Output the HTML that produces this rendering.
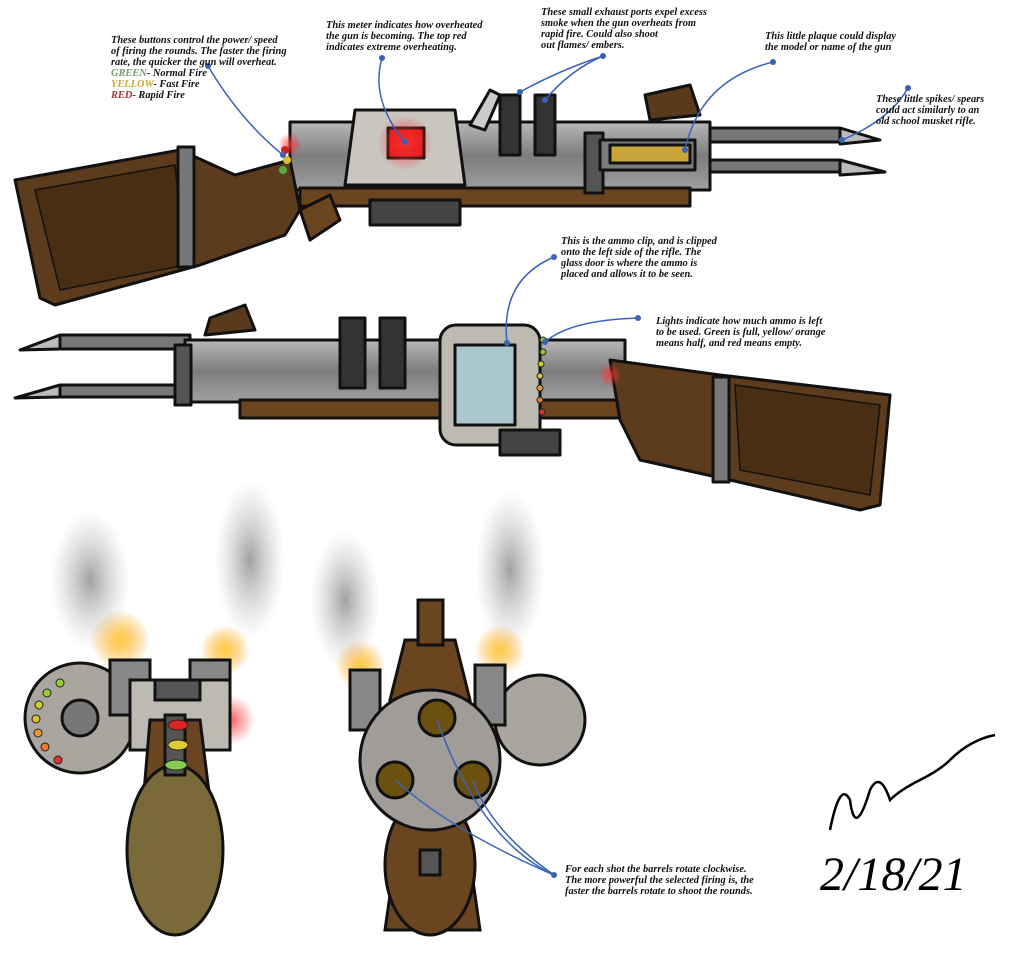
<!DOCTYPE html>
<html><head><style>
body{margin:0;background:#fff;width:1024px;height:964px;overflow:hidden}
svg{display:block}
text{font-family:"Liberation Serif",serif;font-style:italic;font-weight:bold;font-size:10.4px;fill:#111}
</style></head><body>
<svg width="1024" height="964" viewBox="0 0 1024 964" xmlns="http://www.w3.org/2000/svg">
<defs>
<radialGradient id="glow"><stop offset="0" stop-color="#f33" stop-opacity=".8"/><stop offset="1" stop-color="#f33" stop-opacity="0"/></radialGradient>
<radialGradient id="fire"><stop offset="0" stop-color="#fc4"/><stop offset="1" stop-color="#f90" stop-opacity="0"/></radialGradient>
<radialGradient id="smoke"><stop offset="0" stop-color="#888" stop-opacity=".8"/><stop offset="1" stop-color="#bbb" stop-opacity="0"/></radialGradient>
<linearGradient id="metal" x1="0" y1="0" x2="0" y2="1"><stop offset="0" stop-color="#b8b8b8"/><stop offset=".5" stop-color="#7d7d80"/><stop offset="1" stop-color="#a0a0a0"/></linearGradient>
</defs>

<!-- TOP GUN -->
<g stroke="#111" stroke-width="3" stroke-linejoin="round">
<rect x="690" y="128" width="150" height="14" fill="#777"/>
<rect x="690" y="160" width="150" height="12" fill="#777"/>
<polygon points="840,128 880,140 840,144" fill="#bbb"/>
<polygon points="840,160 885,172 840,175" fill="#bbb"/>
<path d="M645,95 L690,85 L700,115 L650,120 Z" fill="#5a3a1c"/>
<rect x="290" y="122" width="420" height="68" fill="url(#metal)"/>
<rect x="300" y="188" width="390" height="18" fill="#6b4520"/>
<path d="M15,180 L180,150 L235,175 L290,160 L300,210 L285,235 L200,265 L55,305 L40,298 Z" fill="#5d3b1d"/>
<path d="M35,190 L175,165 L185,265 L60,290 Z" fill="#4a2e14" stroke-width="1.5"/>
<rect x="178" y="147" width="16" height="120" fill="#777"/>
<path d="M355,110 L455,110 L465,185 L345,185 Z" fill="#c9c6c0"/>
<rect x="388" y="128" width="36" height="30" fill="#e01818"/>
<rect x="500" y="95" width="20" height="60" fill="#333"/>
<rect x="535" y="95" width="20" height="60" fill="#333"/>
<path d="M470,125 L490,90 L500,95 L485,130 Z" fill="#ccc"/>
<rect x="585" y="133" width="18" height="60" fill="#555"/>
<rect x="600" y="140" width="95" height="30" fill="#7a7a7a"/>
<rect x="610" y="145" width="80" height="18" fill="#c9a53b"/>
<rect x="370" y="200" width="90" height="25" fill="#444"/>
<path d="M300,210 L330,195 L340,220 L310,240 Z" fill="#6b4520"/>
</g>
<circle cx="405" cy="143" r="28" fill="url(#glow)"/>
<circle cx="290" cy="145" r="12" fill="url(#glow)"/>
<circle cx="285" cy="150" r="4" fill="#c22"/><circle cx="287" cy="160" r="4" fill="#db3"/><circle cx="283" cy="170" r="4" fill="#5a4"/>

<!-- SECOND GUN -->
<g stroke="#111" stroke-width="3" stroke-linejoin="round">
<rect x="60" y="335" width="130" height="14" fill="#777"/>
<rect x="60" y="385" width="130" height="12" fill="#777"/>
<polygon points="60,335 20,350 60,349" fill="#bbb"/>
<polygon points="60,385 15,398 60,397" fill="#bbb"/>
<path d="M210,318 L245,305 L255,330 L205,335 Z" fill="#5a3a1c"/>
<rect x="185" y="340" width="440" height="62" fill="url(#metal)"/>
<rect x="240" y="400" width="380" height="18" fill="#6b4520"/>
<path d="M610,360 L720,375 L890,395 L880,505 L860,510 L730,480 L640,460 L620,420 Z" fill="#5d3b1d"/>
<path d="M735,385 L880,405 L870,495 L740,470 Z" fill="#4a2e14" stroke-width="1.5"/>
<rect x="713" y="377" width="16" height="105" fill="#777"/>
<rect x="340" y="318" width="25" height="70" fill="#333"/>
<rect x="380" y="318" width="25" height="70" fill="#333"/>
<rect x="175" y="345" width="16" height="60" fill="#555"/>
<rect x="440" y="325" width="100" height="120" rx="16" fill="#bdbab2"/>
<rect x="455" y="345" width="60" height="80" fill="#a9c7cc"/>
<rect x="500" y="430" width="60" height="25" fill="#444"/>
</g>
<circle cx="610" cy="375" r="12" fill="url(#glow)"/>
<g stroke="#222" stroke-width="1">
<circle cx="543" cy="340" r="3" fill="#8c3"/><circle cx="543" cy="352" r="3" fill="#8c3"/><circle cx="541" cy="364" r="3" fill="#cc3"/><circle cx="540" cy="376" r="3" fill="#db3"/><circle cx="540" cy="388" r="3" fill="#e93"/><circle cx="540" cy="400" r="3" fill="#e73"/><circle cx="542" cy="412" r="3" fill="#d33"/>
</g>

<!-- BOTTOM LEFT VIEW -->
<circle cx="120" cy="640" r="30" fill="url(#fire)"/>
<circle cx="225" cy="650" r="25" fill="url(#fire)"/>
<ellipse cx="90" cy="580" rx="40" ry="70" fill="url(#smoke)"/>
<ellipse cx="250" cy="560" rx="35" ry="80" fill="url(#smoke)"/>
<circle cx="230" cy="720" r="25" fill="url(#glow)"/>
<g stroke="#111" stroke-width="3">
<circle cx="80" cy="718" r="55" fill="#aaa69f"/>
<circle cx="80" cy="718" r="18" fill="#777"/>
<rect x="110" y="660" width="40" height="55" fill="#888"/>
<rect x="190" y="660" width="40" height="55" fill="#888"/>
<rect x="130" y="680" width="100" height="70" fill="#bdbab2"/>
<rect x="155" y="680" width="45" height="20" fill="#555"/>
<path d="M150,720 L200,720 L215,840 L140,840 Z" fill="#6b4520"/>
<ellipse cx="175" cy="850" rx="48" ry="85" fill="#7a6a3a"/>
<rect x="165" y="715" width="20" height="60" fill="#555"/>
</g>
<g stroke="#222" stroke-width="1">
<ellipse cx="178" cy="725" rx="10" ry="5" fill="#d22"/><ellipse cx="178" cy="745" rx="10" ry="5" fill="#dc3"/><ellipse cx="176" cy="765" rx="11" ry="5" fill="#8c5"/>
<circle cx="60" cy="683" r="4" fill="#9c3"/><circle cx="47" cy="693" r="4" fill="#9c3"/><circle cx="39" cy="705" r="4" fill="#cc3"/><circle cx="36" cy="719" r="4" fill="#db3"/><circle cx="38" cy="733" r="4" fill="#e93"/><circle cx="45" cy="747" r="4" fill="#e73"/><circle cx="58" cy="760" r="4" fill="#d33"/>
</g>

<!-- BOTTOM RIGHT VIEW -->
<circle cx="360" cy="665" r="25" fill="url(#fire)"/>
<circle cx="500" cy="650" r="25" fill="url(#fire)"/>
<ellipse cx="345" cy="600" rx="35" ry="70" fill="url(#smoke)"/>
<ellipse cx="510" cy="570" rx="35" ry="80" fill="url(#smoke)"/>
<g stroke="#111" stroke-width="3">
<circle cx="540" cy="720" r="45" fill="#aaa69f"/>
<path d="M405,640 L455,640 L470,700 L390,700 Z" fill="#6b4520"/>
<rect x="418" y="600" width="25" height="45" fill="#6b4520"/>
<rect x="350" y="670" width="30" height="60" fill="#888"/>
<rect x="475" y="665" width="30" height="60" fill="#888"/>
<path d="M395,860 L470,860 L480,930 L385,930 Z" fill="#6b4520"/>
<ellipse cx="430" cy="865" rx="45" ry="70" fill="#6b4520"/>
<circle cx="430" cy="760" r="70" fill="#a09d98"/>
<circle cx="437" cy="718" r="18" fill="#6b5010"/>
<circle cx="395" cy="780" r="18" fill="#6b5010"/>
<circle cx="473" cy="780" r="18" fill="#6b5010"/>
<rect x="420" y="850" width="20" height="25" fill="#555"/>
</g>

<!-- CONNECTORS -->
<g stroke="#3a62b8" stroke-width="1.5" fill="none">
<path d="M208,66 Q240,120 283,155"/>
<path d="M382,58 Q370,100 405,142"/>
<path d="M603,56 Q560,70 520,92"/><path d="M603,56 Q570,70 545,100"/>
<path d="M773,62 Q700,80 685,150"/>
<path d="M908,88 Q890,120 842,140"/>
<path d="M554,257 Q500,280 507,343"/>
<path d="M638,318 Q570,320 545,342"/>
<path d="M554,875 Q480,840 437,720"/><path d="M554,875 Q450,830 395,780"/><path d="M554,875 Q490,830 473,780"/>
</g>
<g fill="#3a62b8">
<circle cx="208" cy="66" r="3"/><circle cx="382" cy="58" r="3"/><circle cx="603" cy="56" r="3"/><circle cx="773" cy="62" r="3"/><circle cx="908" cy="88" r="3"/><circle cx="554" cy="257" r="3"/><circle cx="638" cy="318" r="3"/><circle cx="554" cy="875" r="3"/><circle cx="405" cy="142" r="3"/><circle cx="685" cy="150" r="3"/><circle cx="842" cy="140" r="3"/><circle cx="520" cy="92" r="3"/><circle cx="545" cy="100" r="3"/><circle cx="507" cy="343" r="3"/><circle cx="545" cy="342" r="3"/><circle cx="283" cy="155" r="3"/>
</g>

<!-- TEXTS -->
<text x="111" y="43">These buttons control the power/ speed</text>
<text x="111" y="54">of firing the rounds. The faster the firing</text>
<text x="111" y="65">rate, the quicker the gun will overheat.</text>
<text x="111" y="76"><tspan fill="#7a9a6a">GREEN</tspan>- Normal Fire</text>
<text x="111" y="87"><tspan fill="#c9a83b">YELLOW</tspan>- Fast Fire</text>
<text x="111" y="98"><tspan fill="#a33">RED</tspan>- Rapid Fire</text>
<text x="326" y="28">This meter indicates how overheated</text>
<text x="326" y="39">the gun is becoming. The top red</text>
<text x="326" y="50">indicates extreme overheating.</text>
<text x="541" y="15">These small exhaust ports expel excess</text>
<text x="541" y="26">smoke when the gun overheats from</text>
<text x="541" y="37">rapid fire. Could also shoot</text>
<text x="541" y="48">out flames/ embers.</text>
<text x="765" y="39">This little plaque could display</text>
<text x="765" y="50">the model or name of the gun</text>
<text x="876" y="102">These little spikes/ spears</text>
<text x="876" y="113">could act similarly to an</text>
<text x="876" y="124">old school musket rifle.</text>
<text x="561" y="244">This is the ammo clip, and is clipped</text>
<text x="561" y="255">onto the left side of the rifle. The</text>
<text x="561" y="266">glass door is where the ammo is</text>
<text x="561" y="277">placed and allows it to be seen.</text>
<text x="656" y="324">Lights indicate how much ammo is left</text>
<text x="656" y="335">to be used. Green is full, yellow/ orange</text>
<text x="656" y="346">means half, and red means empty.</text>
<text x="565" y="872">For each shot the barrels rotate clockwise.</text>
<text x="565" y="883">The more powerful the selected firing is, the</text>
<text x="565" y="894">faster the barrels rotate to shoot the rounds.</text>

<!-- SIGNATURE -->
<path d="M830,830 Q840,780 850,800 Q855,840 870,790 Q880,770 890,800 Q900,790 920,780 Q940,770 950,760 Q970,740 995,735" stroke="#000" stroke-width="2.5" fill="none"/>
<text x="820" y="890" style="font-size:48px;font-weight:normal;font-style:italic;fill:#000">2/18/21</text>
</svg>
</body></html>
